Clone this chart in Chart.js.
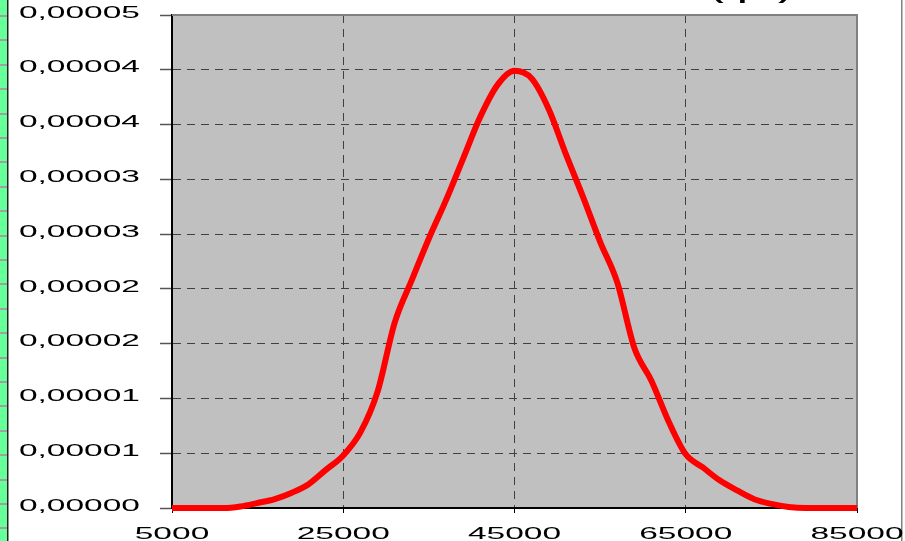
<!DOCTYPE html>
<html>
<head>
<meta charset="utf-8">
<script src="https://cdn.jsdelivr.net/npm/chart.js@4.4.0/dist/chart.umd.min.js"></script>
<style>
    body { margin: 0; background: #ffffff; }
    #wrap { position: relative; width: 905px; height: 541px; overflow: hidden; }
</style>
</head>
<body>
<div id="wrap"><canvas id="chart" width="905" height="541"></canvas></div>
<script>
// Werte
let xWerte = [5000, 7000, 9000, 11000, 13000, 15000, 17000, 19000, 21000, 23000,
    25000, 27000, 29000, 31000, 33000, 35000, 37000, 39000, 41000, 43000,
    45000, 47000, 49000, 51000, 53000, 55000, 57000, 59000, 61000, 63000,
    65000, 67000, 69000, 71000, 73000, 75000, 77000, 79000, 81000, 83000, 85000];
let yWerte = [0, 0, 0, 0, 0.00000014, 0.00000046, 0.00000082, 0.0000014, 0.0000022, 0.0000035,
    0.0000048, 0.0000069, 0.0000106, 0.0000169, 0.0000208, 0.0000246, 0.0000281, 0.0000319, 0.0000357, 0.0000386,
    0.0000399, 0.0000392, 0.0000364, 0.0000323, 0.0000284, 0.0000243, 0.0000206, 0.0000146, 0.0000116, 0.0000079,
    0.0000049, 0.0000037, 0.0000025, 0.0000016, 0.0000008, 0.00000037, 0.0000001, 0, 0, 0, 0];

let xTicks = [5000, 25000, 45000, 65000, 85000];
let xTickLabels = ['5000', '25000', '45000', '65000', '85000'];
let yTicks = [0, 0.000005, 0.00001, 0.000015, 0.00002, 0.000025, 0.00003, 0.000035, 0.00004, 0.000045];
let yTickLabels = ['0,00000', '0,00001', '0,00001', '0,00002', '0,00002',
    '0,00003', '0,00003', '0,00004', '0,00004', '0,00005'];
let titelText = '(грн)';

const streckung = 1.97;  // Schrift ist im Original breit gezogen

// breit gezogenen Text zeichnen
function breiterText(ctx, text, x, y, align, font) {
    ctx.save();
    ctx.font = font;
    ctx.fillStyle = '#000000';
    ctx.textAlign = align;
    ctx.textBaseline = 'middle';
    ctx.translate(x, y);
    ctx.scale(streckung, 1);
    ctx.fillText(text, 0, 0);
    ctx.restore();
}

const hintergrundPlugin = {
    id: 'hintergrund',
    beforeDraw(chart) {
        const ctx = chart.ctx;
        const a = chart.chartArea;
        ctx.save();
        // grüner Rand links
        ctx.fillStyle = '#66ff99';
        ctx.fillRect(0, 0, 7, chart.height);
        ctx.fillStyle = '#a0a0a0';
        for (let y = 16; y < chart.height; y += 24.4) {
            ctx.fillRect(0, Math.round(y) - 1, 7, 2);
        }
        ctx.fillStyle = '#202020';
        ctx.fillRect(7, 0, 1.5, chart.height);
        // grauer Strich rechts
        ctx.fillStyle = '#808080';
        ctx.fillRect(901, 0, 1.5, chart.height);
        // Plotfläche
        ctx.fillStyle = '#c0c0c0';
        ctx.fillRect(a.left, a.top, a.right - a.left, a.bottom - a.top);
        ctx.restore();
    },
    beforeDatasetsDraw(chart) {
        const ctx = chart.ctx;
        const a = chart.chartArea;
        ctx.save();
        ctx.strokeStyle = '#808080';
        ctx.lineWidth = 2;
        ctx.beginPath();
        ctx.moveTo(a.left, a.top);
        ctx.lineTo(a.right, a.top);
        ctx.lineTo(a.right, a.bottom);
        ctx.stroke();
        ctx.restore();
    },
    afterDraw(chart) {
        const ctx = chart.ctx;
        const xs = chart.scales.x;
        const ys = chart.scales.y;
        const font = '17px "Liberation Sans", Arial, sans-serif';
        yTicks.forEach((v, i) => {
            breiterText(ctx, yTickLabels[i], 140, ys.getPixelForValue(v) - 2, 'right', font);
        });
        xTicks.forEach((v, i) => {
            breiterText(ctx, xTickLabels[i], xs.getPixelForValue(v), 534, 'center', font);
        });
        // abgeschnittener Titel oben
        ctx.save();
        ctx.font = 'bold 17px "Liberation Sans", Arial, sans-serif';
        ctx.fillStyle = '#000000';
        ctx.textAlign = 'center';
        ctx.textBaseline = 'alphabetic';
        ctx.translate(751, 0);
        ctx.scale(streckung, 1);
        ctx.fillText(titelText, 0, 0);
        ctx.restore();
    }
};

const punkte = xWerte.map((x, i) => ({ x: x, y: yWerte[i] }));

new Chart(document.getElementById('chart'), {
    type: 'line',
    data: {
        datasets: [{
            data: punkte,
            borderColor: '#ff0000',
            borderWidth: 6,
            pointRadius: 0,
            cubicInterpolationMode: 'monotone',
            clip: false
        }]
    },
    options: {
        responsive: false,
        animation: false,
        devicePixelRatio: 1,
        layout: { padding: { left: 0, right: 48, top: 15, bottom: 0 } },
        plugins: {
            legend: { display: false },
            tooltip: { enabled: false }
        },
        scales: {
            x: {
                type: 'linear',
                min: 5000,
                max: 85000,
                afterFit: s => { s.height = 33; },
                afterBuildTicks: s => { s.ticks = xTicks.map(v => ({ value: v })); },
                ticks: { display: false },
                grid: {
                    color: '#404040',
                    lineWidth: 1,
                    tickLength: 5,
                    tickColor: '#000000',
                    tickWidth: 1
                },
                border: { display: true, color: '#000000', width: 2, dash: [8, 6] }
            },
            y: {
                min: 0,
                max: 0.000045,
                afterFit: s => { s.width = 172; },
                afterBuildTicks: s => { s.ticks = yTicks.map(v => ({ value: v })); },
                ticks: { display: false },
                grid: {
                    color: '#404040',
                    lineWidth: 1,
                    tickLength: 12,
                    tickColor: '#555555',
                    tickWidth: 1.5
                },
                border: { display: true, color: '#000000', width: 2, dash: [8, 6] }
            }
        }
    },
    plugins: [hintergrundPlugin]
});
</script>
</body>
</html>
